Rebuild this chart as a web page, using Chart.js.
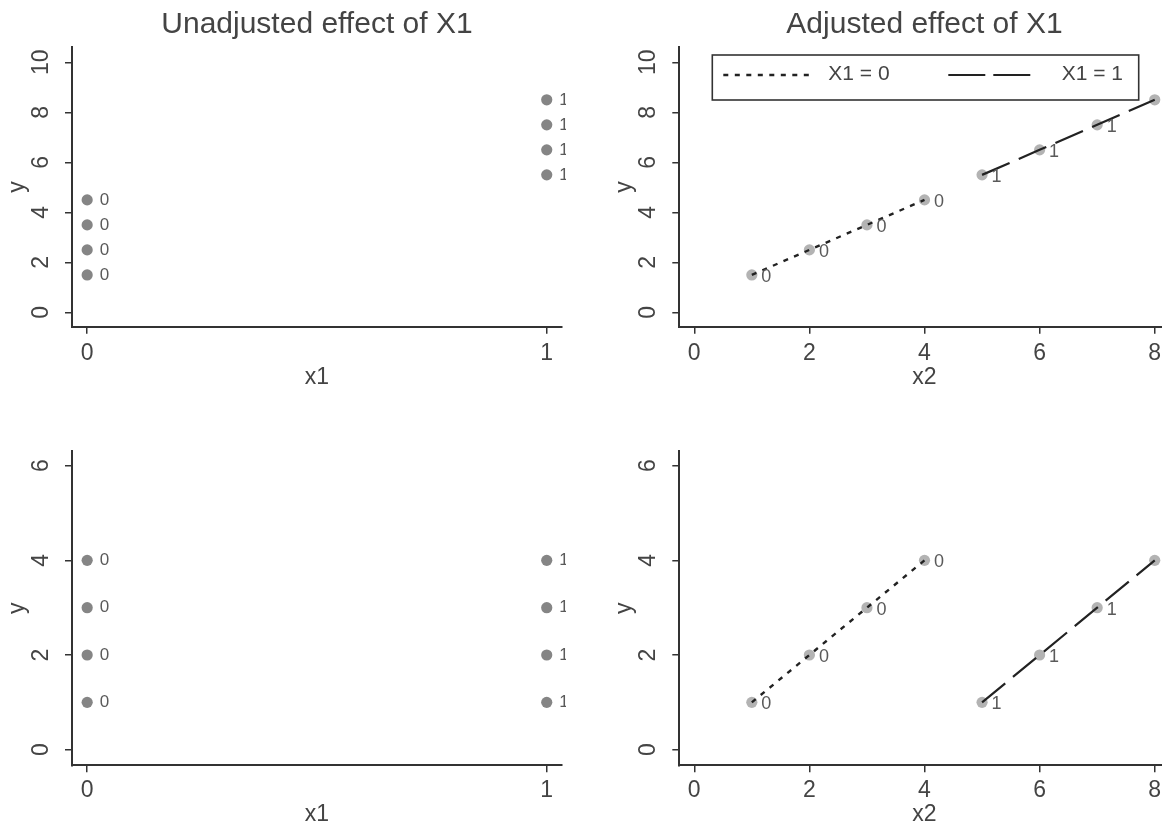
<!DOCTYPE html>
<html>
<head>
<meta charset="utf-8">
<script src="https://cdn.jsdelivr.net/npm/chart.js@4.4.0/dist/chart.umd.min.js"></script>
<style>
html,body{margin:0;padding:0;background:#fff;}
body{width:1162px;height:827px;position:relative;overflow:hidden;}
.clip{position:absolute;overflow:hidden;}
canvas{position:absolute;top:0;}
</style>
</head>
<body>
<div class="clip" style="left:0;top:0;width:566px;height:420px"><canvas id="c1" width="640" height="440" style="left:0"></canvas></div>
<div class="clip" style="left:580px;top:0;width:582px;height:420px"><canvas id="c2" width="600" height="440" style="left:27px"></canvas></div>
<div class="clip" style="left:0;top:420px;width:566px;height:407px"><canvas id="c3" width="640" height="440" style="left:0"></canvas></div>
<div class="clip" style="left:580px;top:420px;width:582px;height:407px"><canvas id="c4" width="600" height="440" style="left:27px"></canvas></div>
<script>
// ---------------- data ----------------
const x1Values      = [0, 0, 0, 0, 1, 1, 1, 1];
const x2Values      = [1, 2, 3, 4, 5, 6, 7, 8];
const yTopValues    = [1.5, 2.5, 3.5, 4.5, 5.5, 6.5, 7.5, 8.5];
const yBottomValues = [1, 2, 3, 4, 1, 2, 3, 4];
const pointTags     = ['0', '0', '0', '0', '1', '1', '1', '1'];
const legendLabels  = ['X1 = 0', 'X1 = 1'];
const panelTitles   = ['Unadjusted effect of X1', 'Adjusted effect of X1'];
const xTicksX1      = [0, 1];
const xTicksX2      = [0, 2, 4, 6, 8];
const yTicksTop     = [0, 2, 4, 6, 8, 10];
const yTicksBottom  = [0, 2, 4, 6];

// ---------------- style ----------------
const FONT = '"Liberation Sans", Arial, Helvetica, sans-serif';
const INK = '#333';
const TXT = '#444';

const pts = (xs, ys, keep) => xs.map((x, i) => ({x: x, y: ys[i], i: i})).filter(p => keep(p.i)).map(p => ({x: p.x, y: p.y}));
const all = () => true;
const grp = g => i => x1Values[i] === g;

const tagPlugin = {
  id: 'pointTags',
  afterDatasetsDraw(chart, args, o) {
    const meta = chart.getDatasetMeta(o.datasetIndex);
    const ctx = chart.ctx;
    ctx.save();
    ctx.font = o.size + 'px ' + FONT;
    ctx.fillStyle = o.color;
    ctx.textAlign = 'left';
    ctx.textBaseline = 'middle';
    meta.data.forEach((el, i) => ctx.fillText(o.labels[i], el.x + o.dx, el.y + o.dy));
    ctx.restore();
  }
};

const boxLegend = {
  id: 'boxLegend',
  afterDatasetsDraw(chart, args, o) {
    if (!o || !o.items) return;
    const a = chart.chartArea, ctx = chart.ctx;
    const L = a.left + o.offsetX, T = a.top + o.offsetY;
    ctx.save();
    ctx.fillStyle = '#fff';
    ctx.fillRect(L, T, o.width, o.height);
    ctx.strokeStyle = INK; ctx.lineWidth = 1.6; ctx.setLineDash([]);
    ctx.strokeRect(L, T, o.width, o.height);
    ctx.font = o.size + 'px ' + FONT;
    ctx.textAlign = 'left'; ctx.textBaseline = 'middle';
    o.items.forEach(it => {
      const ds = chart.data.datasets[it.datasetIndex];
      ctx.setLineDash(it.dash || ds.borderDash);
      ctx.lineWidth = ds.borderWidth;
      ctx.strokeStyle = ds.borderColor;
      ctx.beginPath();
      ctx.moveTo(L + it.x0, T + o.lineY);
      ctx.lineTo(L + it.x1, T + o.lineY);
      ctx.stroke();
      ctx.setLineDash([]);
      ctx.fillStyle = TXT;
      ctx.fillText(ds.label, L + it.tx, T + o.textY);
    });
    ctx.restore();
  }
};

function panel(id, p) {
  const datasets = [];
  if (p.lines) {
    datasets.push({
      label: legendLabels[0], data: pts(p.xs, p.ys, grp(0)), showLine: true,
      borderColor: '#222', borderWidth: 2.4, borderDash: [5, 6.5], pointRadius: 0, fill: false, clip: false
    });
    datasets.push({
      label: legendLabels[1], data: pts(p.xs, p.ys, grp(1)), showLine: true,
      borderColor: '#222', borderWidth: 2.2, borderDash: [30, 10], pointRadius: 0, fill: false, clip: false
    });
  }
  datasets.push({
    label: 'points', data: pts(p.xs, p.ys, all), pointRadius: 5.6,
    backgroundColor: p.pointColor, borderColor: p.pointColor, borderWidth: 0, clip: false
  });
  const pointIndex = datasets.length - 1;

  const plugins = {
    legend: {display: false},
    tooltip: {enabled: false},
    title: p.title ? {
      display: true, text: p.title, fullSize: false, color: TXT,
      font: {family: FONT, size: 30, weight: 'normal'}, padding: {top: 7, bottom: 4.3}
    } : {display: false},
    pointTags: {datasetIndex: pointIndex, labels: pointTags, dx: p.tagDx, dy: p.tagDy, size: p.tagSize, color: '#5a5a5a'}
  };
  if (p.legend) plugins.boxLegend = p.legend;

  return new Chart(document.getElementById(id), {
    type: 'scatter',
    data: {datasets: datasets},
    plugins: [tagPlugin, boxLegend],
    options: {
      responsive: false, animation: false, events: [],
      layout: {autoPadding: false, padding: {left: 0, right: p.padR, top: p.padT, bottom: p.padB}},
      scales: {
        x: {
          type: 'linear', position: 'bottom', min: p.xMin, max: p.xMax,
          afterBuildTicks: s => { s.ticks = p.xTicks.map(v => ({value: v})); },
          afterFit: s => { s.height = p.xHeight; },
          ticks: {font: {family: FONT, size: 23}, color: TXT, padding: p.xTickPad, maxRotation: 0, minRotation: 0, callback: v => String(v)},
          grid: {drawOnChartArea: false, drawTicks: true, tickLength: 7, color: INK, lineWidth: 1.5},
          border: {display: true, color: INK, width: 2},
          title: {display: true, text: p.xTitle, color: TXT, font: {family: FONT, size: 23}, padding: {top: 0, bottom: 0}}
        },
        y: {
          type: 'linear', position: 'left', min: p.yMin, max: p.yMax,
          afterBuildTicks: s => { s.ticks = p.yTicks.map(v => ({value: v})); },
          afterFit: s => { s.width = p.yWidth; },
          ticks: {font: {family: FONT, size: 23}, color: TXT, padding: p.yTickPad, minRotation: 90, maxRotation: 90, crossAlign: 'center', callback: v => String(v)},
          grid: {drawOnChartArea: false, drawTicks: true, tickLength: 7, color: INK, lineWidth: 1.5},
          border: {display: true, color: INK, width: 2},
          title: {display: true, text: 'y', color: TXT, font: {family: FONT, size: 23}, padding: {top: 3.4, bottom: 0}}
        }
      },
      plugins: plugins
    }
  });
}

const topGeom = {padT: 0, xHeight: 65.1, padB: 48.2, xTickPad: 6};
const botGeom = {padT: 24.3, xHeight: 63.5, padB: 31.2, xTickPad: 4.5};

panel('c1', Object.assign({}, topGeom, {
  xs: x1Values, ys: yTopValues, xTicks: xTicksX1, yTicks: yTicksTop,
  xMin: -0.033, xMax: 1.033, yMin: -0.57, yMax: 10.6,
  title: panelTitles[0], xTitle: 'x1', yWidth: 72, padR: 78.1, yTickPad: 10.8,
  pointColor: '#858585', tagDx: 12.5, tagDy: 0, tagSize: 17
}));

panel('c2', Object.assign({}, topGeom, {
  xs: x2Values, ys: yTopValues, xTicks: xTicksX2, yTicks: yTicksTop,
  xMin: -0.26, xMax: 8.26, yMin: -0.57, yMax: 10.6,
  title: panelTitles[1], xTitle: 'x2', yWidth: 72.3, padR: 37.3, yTickPad: 10.8,
  pointColor: '#b3b3b3', tagDx: 9.5, tagDy: 2, tagSize: 18, lines: true,
  legend: {
    offsetX: 33, offsetY: 7.7, width: 426.4, height: 45, lineY: 20, textY: 19, size: 21,
    items: [{datasetIndex: 0, x0: 11, x1: 97.7, tx: 116},
            {datasetIndex: 1, x0: 236, x1: 318, tx: 349.4, dash: [37, 8]}]
  }
}));

panel('c3', Object.assign({}, botGeom, {
  xs: x1Values, ys: yBottomValues, xTicks: xTicksX1, yTicks: yTicksBottom,
  xMin: -0.033, xMax: 1.033, yMin: -0.33, yMax: 6.31,
  title: null, xTitle: 'x1', yWidth: 72, padR: 78.1, yTickPad: 17.2,
  pointColor: '#858585', tagDx: 12.5, tagDy: 0, tagSize: 17
}));

panel('c4', Object.assign({}, botGeom, {
  xs: x2Values, ys: yBottomValues, xTicks: xTicksX2, yTicks: yTicksBottom,
  xMin: -0.26, xMax: 8.26, yMin: -0.33, yMax: 6.31,
  title: null, xTitle: 'x2', yWidth: 72.3, padR: 37.3, yTickPad: 17.2,
  pointColor: '#b3b3b3', tagDx: 9.5, tagDy: 2, tagSize: 18, lines: true
}));
</script>
</body>
</html>
